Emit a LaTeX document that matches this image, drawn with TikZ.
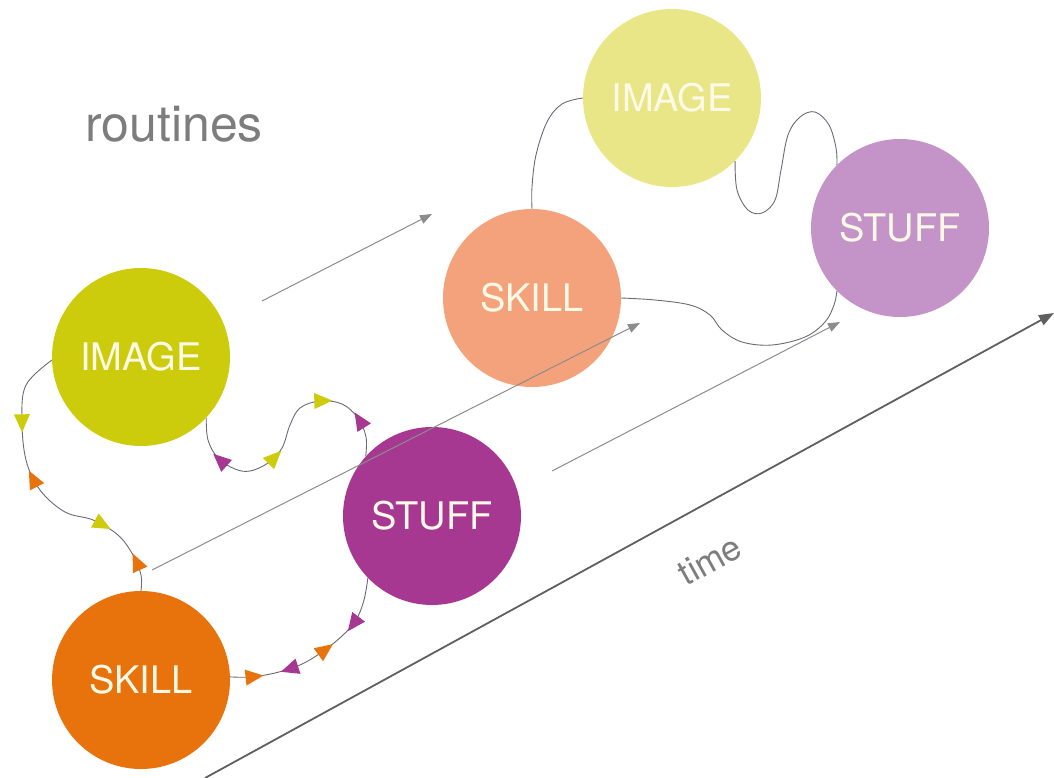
\documentclass[tikz,border=0pt]{standalone}
\usepackage{fontspec}
\setmainfont{TeX Gyre Heros}
\usetikzlibrary{arrows.meta,decorations.markings}

\definecolor{imgA}{RGB}{205,204,12}
\definecolor{stfA}{RGB}{166,56,146}
\definecolor{sklA}{RGB}{232,115,12}
\definecolor{sklB}{RGB}{243,162,124}
\definecolor{imgB}{RGB}{232,230,134}
\definecolor{stfB}{RGB}{196,147,199}
\definecolor{labelgray}{RGB}{125,125,125}
\definecolor{linkgray}{RGB}{105,105,120}
\definecolor{flowgray}{RGB}{140,140,140}
\definecolor{axisgray}{RGB}{95,95,95}
\definecolor{cream}{RGB}{255,250,232}

% filled triangular heads placed along a path (forward / backward)
\newcommand{\fwtip}[1]{\fill[#1] (9pt,0pt) -- (-9pt,8pt) -- (-9pt,-8pt) -- cycle;}
\newcommand{\bwtip}[1]{\fill[#1] (-9pt,0pt) -- (9pt,8pt) -- (9pt,-8pt) -- cycle;}

\tikzset{
  blob/.style={circle, minimum size=178pt, inner sep=0pt, text=cream,
    font=\fontsize{38}{40}\selectfont},
  link/.style={draw=linkgray, line width=0.9pt},
  flow/.style={draw=flowgray, line width=1pt,
    -{Triangle[length=12pt,width=9pt,color=flowgray]}},
}

\begin{document}
\begin{tikzpicture}[x=1pt,y=-1pt]
\useasboundingbox (0,0) rectangle (1054,778);

% heading
\node[text=labelgray, font=\fontsize{50}{52}\selectfont] (title) at (174,124) {routines};

% circles
\node[blob, fill=imgA] (img1) at (141,357) {IMAGE};
\node[blob, fill=stfA] (stf1) at (432,516) {STUFF};
\node[blob, fill=sklA] (skl1) at (141,680) {SKILL};
\node[blob, fill=sklB] (skl2) at (532,298) {SKILL};
\node[blob, fill=imgB] (img2) at (672,98) {IMAGE};
\node[blob, fill=stfB] (stf2) at (900,228) {STUFF};

% time axis
\coordinate (t0) at (205,778);
\coordinate (t1) at (1054,313);
\draw[draw=axisgray, line width=1.8pt, -{Triangle[length=15pt,width=11pt,color=axisgray]}] (t0) -- (t1);
\node[text=labelgray, font=\fontsize{35}{36}\selectfont, rotate=29] (time) at (710,560) {time};

% progression arrows
\coordinate (a0) at (262,301);  \coordinate (a1) at (432,214);
\coordinate (b0) at (152,570);  \coordinate (b1) at (640,323);
\coordinate (c0) at (552,471);  \coordinate (c1) at (840,322);
\draw[flow] (a0) -- (a1);
\draw[flow] (b0) -- (b1);
\draw[flow] (c0) -- (c1);

% lower routine: image -- skill
\draw[link,
  postaction={decorate, decoration={markings,
    mark=at position 0.25 with {\fwtip{imgA}},
    mark=at position 0.44 with {\bwtip{sklA}},
    mark=at position 0.73 with {\fwtip{imgA}},
    mark=at position 0.90 with {\bwtip{sklA}}}}]
  plot[smooth, tension=0.6] coordinates {(img1.182) (26,385) (22,420) (26,460) (40,490) (65,512) (93,520) (118,535) (133,555) (141,575) (skl1.north)};

% lower routine: image -- stuff
\draw[link,
  postaction={decorate, decoration={markings,
    mark=at position 0.17 with {\bwtip{stfA}},
    mark=at position 0.40 with {\fwtip{imgA}},
    mark=at position 0.70 with {\fwtip{imgA}},
    mark=at position 0.86 with {\bwtip{stfA}}}}]
  plot[smooth, tension=0.6] coordinates {(img1.-43) (208,440) (218,458) (235,469) (250,471) (268,463) (282,448) (290,425) (300,408) (320,401) (342,404) (358,418) (366,437) (stf1.138)};

% lower routine: skill -- stuff
\draw[link,
  postaction={decorate, decoration={markings,
    mark=at position 0.13 with {\fwtip{sklA}},
    mark=at position 0.32 with {\bwtip{stfA}},
    mark=at position 0.54 with {\fwtip{sklA}},
    mark=at position 0.74 with {\bwtip{stfA}}}}]
  plot[smooth, tension=0.6] coordinates {(skl1.2) (250,677) (275,673) (300,665) (322,652) (342,636) (356,620) (364,600) (stf1.224)};

% upper routine
\draw[link] plot[smooth, tension=0.6] coordinates {(skl2.north) (532,187) (536,155) (547,122) (562,104) (img2.west)};
\draw[link] plot[smooth, tension=0.6] coordinates {(img2.-45) (737,190) (748,210) (762,213) (775,200) (781,170) (788,135) (800,117) (815,112) (829,125) (836,148) (stf2.135)};
\draw[link] plot[smooth, tension=0.6] coordinates {(skl2.east) (655,300) (690,305) (710,315) (722,330) (742,342) (772,345) (805,337) (825,322) (834,305) (stf2.225)};
\end{tikzpicture}
\end{document}
